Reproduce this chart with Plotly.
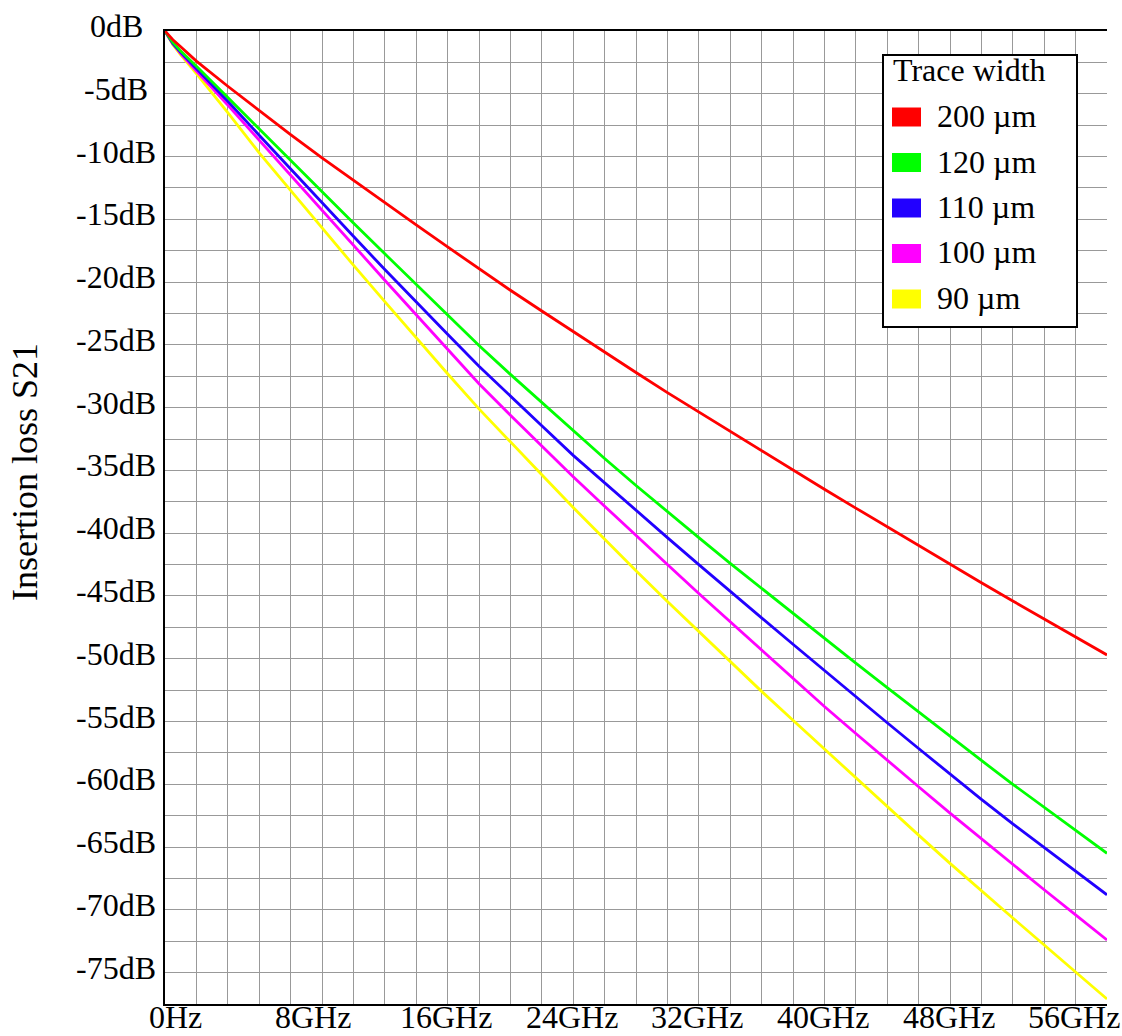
import plotly.graph_objects as go

# Frequency sweep (GHz) and insertion loss S21 (dB) for each trace width
FREQ_GHZ = [0, 0.5, 1, 2, 4, 6, 8, 10, 12, 14, 16, 18, 20, 22, 24, 26, 28, 30,
            32, 34, 36, 38, 40, 42, 44, 46, 48, 50, 52, 54, 56, 58, 60]

S21_200UM = [0, -0.7, -1.25, -2.4, -4.4, -6.35, -8.25, -10.1, -11.9, -13.7, -15.45,
             -17.2, -18.95, -20.65, -22.3, -23.95, -25.6, -27.2, -28.8, -30.35, -31.9,
             -33.45, -35.0, -36.5, -38.0, -39.5, -41.0, -42.5, -43.95, -45.4, -46.85,
             -48.3, -49.7]
S21_120UM = [0, -0.9, -1.6, -2.8, -5.3, -7.8, -10.35, -12.85, -15.3, -17.75, -20.2,
             -22.65, -25.05, -27.35, -29.6, -31.85, -34.05, -36.2, -38.3, -40.35, -42.4,
             -44.4, -46.4, -48.4, -50.35, -52.3, -54.25, -56.2, -58.1, -60.0, -61.85,
             -63.7, -65.5]
S21_110UM = [0, -1.0, -1.7, -3.0, -5.6, -8.3, -11.0, -13.7, -16.35, -19.0, -21.6,
             -24.15, -26.7, -29.1, -31.45, -33.8, -36.0, -38.2, -40.35, -42.5, -44.65,
             -46.75, -48.85, -50.95, -53.05, -55.1, -57.15, -59.2, -61.2, -63.15, -65.05,
             -66.95, -68.8]
S21_100UM = [0, -1.0, -1.8, -3.2, -5.9, -8.7, -11.5, -14.25, -17.05, -19.85, -22.6,
             -25.35, -28.1, -30.6, -33.05, -35.5, -37.85, -40.2, -42.5, -44.8, -47.05,
             -49.35, -51.6, -53.8, -55.95, -58.1, -60.2, -62.3, -64.35, -66.4, -68.4,
             -70.4, -72.4]
S21_90UM = [0, -1.1, -1.9, -3.4, -6.5, -9.7, -12.7, -15.7, -18.65, -21.55, -24.45,
            -27.3, -30.1, -32.75, -35.35, -37.95, -40.5, -43.0, -45.45, -47.85, -50.25,
            -52.6, -54.9, -57.2, -59.5, -61.8, -64.05, -66.3, -68.5, -70.65, -72.8,
            -74.95, -77.1]

TRACE_LABELS = ["200 µm", "120 µm", "110 µm", "100 µm", "90 µm"]
TRACE_COLORS = ["#ff0000", "#00ff00", "#2200ff", "#ff00ff", "#ffff00"]
SERIES = [S21_200UM, S21_120UM, S21_110UM, S21_100UM, S21_90UM]

X_TICKS = [0, 8, 16, 24, 32, 40, 48, 56]
X_TICK_TEXT = ["0Hz", "8GHz", "16GHz", "24GHz", "32GHz", "40GHz", "48GHz", "56GHz"]
Y_TICKS = [0, -5, -10, -15, -20, -25, -30, -35, -40, -45, -50, -55, -60, -65, -70, -75]

FONT = "Liberation Serif"
FS = 32
W, H = 1122, 1036
ML, MR, MT, MB = 165, 15, 31, 32
PW, PH = W - ML - MR, H - MT - MB


def px(xp):
    return (xp - ML) / PW


def py(yp):
    return (H - MB - yp) / PH


fig = go.Figure()

# draw thinnest trace first so the wider ones sit on top
for ys, color in reversed(list(zip(SERIES, TRACE_COLORS))):
    fig.add_trace(go.Scatter(x=FREQ_GHZ, y=ys, mode="lines",
                             line=dict(color=color, width=2.8),
                             showlegend=False, hoverinfo="skip"))

grid = "#999999"
fig.update_layout(
    width=W, height=H,
    margin=dict(l=ML, r=MR, t=MT, b=MB, pad=0, autoexpand=False),
    paper_bgcolor="white", plot_bgcolor="white",
    font=dict(family=FONT, size=FS, color="black"),
    showlegend=False,
    xaxis=dict(
        range=[0, 60], tickvals=X_TICKS, showticklabels=False,
        showgrid=True, gridcolor=grid, gridwidth=1,
        minor=dict(dtick=2, showgrid=True, gridcolor=grid, gridwidth=1),
        showline=True, linecolor="black", linewidth=1.5, mirror=True,
        ticks="", zeroline=False, automargin=False,
    ),
    yaxis=dict(
        range=[-77.5, 0], tickvals=Y_TICKS, showticklabels=False,
        showgrid=True, gridcolor=grid, gridwidth=1,
        minor=dict(dtick=2.5, showgrid=True, gridcolor=grid, gridwidth=1),
        showline=True, linecolor="black", linewidth=1.5,
        ticks="", zeroline=False, automargin=False,
    ),
)

# x tick labels, starting just left of each major grid line
for v, t in zip(X_TICKS, X_TICK_TEXT):
    fig.add_annotation(x=v, xref="x", y=0, yref="paper", text=t,
                       showarrow=False, xanchor="left", yanchor="top",
                       xshift=-17, yshift=6, borderpad=0,
                       font=dict(family=FONT, size=FS))

# y tick labels, centred in the left margin
for v in Y_TICKS:
    fig.add_annotation(x=0, xref="paper", y=v, yref="y", text=f"{v}dB",
                       showarrow=False, xanchor="center", yanchor="middle",
                       xshift=-49, yshift=5, font=dict(family=FONT, size=FS))

# axis title
fig.add_annotation(x=px(25), xref="paper", y=py(472), yref="paper",
                   text="Insertion loss S21", textangle=-90, showarrow=False,
                   xanchor="center", yanchor="middle",
                   font=dict(family=FONT, size=36))

# legend box with colour swatches
fig.add_shape(type="rect", xref="paper", yref="paper",
              x0=px(883), x1=px(1077), y0=py(55), y1=py(327),
              line=dict(color="black", width=2), fillcolor="white", layer="above")
fig.add_annotation(x=px(891), xref="paper", y=py(70), yref="paper",
                   text="Trace width", showarrow=False, xanchor="left",
                   yanchor="middle", font=dict(family=FONT, size=FS))
row0, row_step = 117, 45.5
for i, (label, color) in enumerate(zip(TRACE_LABELS, TRACE_COLORS)):
    cy = row0 + i * row_step
    fig.add_shape(type="rect", xref="paper", yref="paper",
                  x0=px(892), x1=px(921), y0=py(cy + 9.5), y1=py(cy - 9.5),
                  line=dict(width=0), fillcolor=color, layer="above")
    fig.add_annotation(x=px(935), xref="paper", y=py(cy - 1), yref="paper",
                       text=label, showarrow=False, xanchor="left",
                       yanchor="middle", font=dict(family=FONT, size=FS))

fig.write_html("out.html")
